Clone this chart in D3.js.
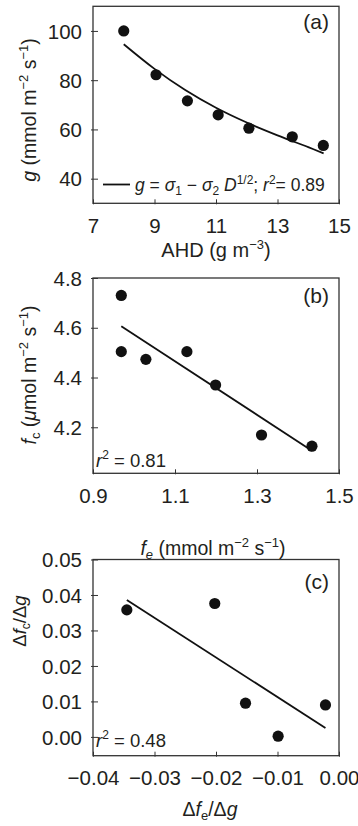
<!DOCTYPE html>
<html>
<head>
<meta charset="utf-8">
<script src="https://cdn.jsdelivr.net/npm/d3@7"></script>
<style>
  body { margin: 0; background: #fff; }
  svg text { font-family: "Liberation Sans", Arial, sans-serif; fill: #231f20; }
</style>
</head>
<body>
<div class="chart"></div>
<script>
// panel (a): conductance vs AHD
const ahd = [8, 9.05, 10.07, 11.07, 12.07, 13.48, 14.49];
const gVals = [100, 82.2, 71.6, 65.9, 60.5, 57.0, 53.5];
const fitAx = [8, 9, 10, 11, 12, 13, 14, 14.5];
const fitAy = [94.6, 84.6, 76.0, 68.8, 62.8, 57.6, 52.8, 50.3];
const ticksAx = [7, 9, 11, 13, 15];
const ticksAy = [40, 60, 80, 100];

// panel (b): fc vs fe
const fe = [0.969, 0.969, 1.029, 1.129, 1.199, 1.311, 1.434];
const fc = [4.730, 4.504, 4.473, 4.504, 4.370, 4.169, 4.124];
const fitBx = [0.969, 1.434];
const fitBy = [4.606, 4.106];
const ticksBx = [0.9, 1.1, 1.3, 1.5];
const ticksBy = [4.2, 4.4, 4.6, 4.8];

// panel (c): dfc/dg vs dfe/dg
const dfe = [-0.0345, -0.0202, -0.0152, -0.0099, -0.0022];
const dfc = [0.0358, 0.0376, 0.0095, 0.0002, 0.009];
const fitCx = [-0.0345, -0.0022];
const fitCy = [0.0386, 0.0025];
const ticksCx = [-0.04, -0.03, -0.02, -0.01, 0];
const ticksCy = [0, 0.01, 0.02, 0.03, 0.04, 0.05];

const width = 358, height = 826;
const svg = d3.select('.chart').append('svg')
  .attr('width', width)
  .attr('height', height);

const left = 93, right = 339;

function panel(cfg) {
  const x = d3.scaleLinear().domain(cfg.xDom).range([left, right]);
  const y = d3.scaleLinear().domain(cfg.yDom).range(cfg.yRange);
  const g = svg.append('g');

  // ticks, pointing into the frame
  g.append('g')
    .attr('transform', `translate(0,${cfg.yRange[0]})`)
    .call(d3.axisBottom(x).tickValues(cfg.xTicks).tickFormat(cfg.xFmt).tickSizeInner(-4).tickSizeOuter(0).tickPadding(12))
    .call(a => a.select('.domain').remove())
    .call(a => a.selectAll('line').attr('stroke', '#333').attr('y1', 1))
    .call(a => a.selectAll('text').attr('font-size', 20.5).attr('fill', '#231f20').attr('dy', null).attr('y', 29.5));

  g.append('g')
    .attr('transform', `translate(${left},0)`)
    .call(d3.axisLeft(y).tickValues(cfg.yTicks).tickFormat(cfg.yFmt).tickSizeInner(-5).tickSizeOuter(0).tickPadding(11))
    .call(a => a.select('.domain').remove())
    .call(a => a.selectAll('line').attr('stroke', '#333').attr('x1', -2))
    .call(a => a.selectAll('text').attr('font-size', 20.5).attr('fill', '#231f20').attr('dy', '0.35em').attr('x', -11));

  // frame
  g.append('rect')
    .attr('x', left)
    .attr('y', cfg.yRange[1])
    .attr('width', right - left)
    .attr('height', cfg.yRange[0] - cfg.yRange[1])
    .style('fill', 'none')
    .style('stroke', '#333')
    .style('stroke-width', 1.3);

  // fit line
  g.append('path')
    .datum(d3.zip(cfg.fitX, cfg.fitY))
    .attr('d', d3.line().x(d => x(d[0])).y(d => y(d[1])).curve(d3.curveCatmullRom))
    .style('fill', 'none')
    .style('stroke', '#111')
    .style('stroke-width', 1.8);

  // points
  g.selectAll('circle')
    .data(d3.zip(cfg.px, cfg.py))
    .join('circle')
    .attr('cx', d => x(d[0]))
    .attr('cy', d => y(d[1]))
    .attr('r', 5.6)
    .style('fill', '#111');

  return { g, x, y };
}

const A = panel({
  xDom: [7, 15], yDom: [30, 110], yRange: [203.3, 6.3],
  xTicks: ticksAx, yTicks: ticksAy, xFmt: d3.format('d'), yFmt: d3.format('d'),
  fitX: fitAx, fitY: fitAy, px: ahd, py: gVals
});
const B = panel({
  xDom: [0.9, 1.5], yDom: [4.015, 4.8], yRange: [473.3, 278],
  xTicks: ticksBx, yTicks: ticksBy, xFmt: d3.format('.1f'), yFmt: d3.format('.1f'),
  fitX: fitBx, fitY: fitBy, px: fe, py: fc
});
const C = panel({
  xDom: [-0.04, 0], yDom: [-0.0053, 0.05], yRange: [755.7, 559.5],
  xTicks: ticksCx, yTicks: ticksCy, xFmt: d3.format('.2f'), yFmt: d3.format('.2f'),
  fitX: fitCx, fitY: fitCy, px: dfe, py: dfc
});

// panel letters
[[A, 29], [B, 303], [C, 589]].forEach(([p, yy], i) => {
  p.g.append('text')
    .attr('x', 329)
    .attr('y', yy)
    .attr('text-anchor', 'end')
    .attr('font-size', 21)
    .text(['(a)', '(b)', '(c)'][i]);
});

// legend in (a)
A.g.append('line')
  .attr('x1', 103).attr('x2', 130)
  .attr('y1', 184.5).attr('y2', 184.5)
  .style('stroke', '#111')
  .style('stroke-width', 1.8);

const leg = A.g.append('text')
  .attr('x', 135)
  .attr('y', 191)
  .attr('font-size', 17.5);
leg.append('tspan').attr('font-style', 'italic').text('g');
leg.append('tspan').text(' = ');
leg.append('tspan').attr('font-style', 'italic').text('σ');
leg.append('tspan').attr('font-size', 12).attr('dy', 4).text('1');
leg.append('tspan').attr('dy', -4).text(' − ');
leg.append('tspan').attr('font-style', 'italic').text('σ');
leg.append('tspan').attr('font-size', 12).attr('dy', 4).text('2');
leg.append('tspan').attr('dy', -4).attr('font-style', 'italic').text(' D');
leg.append('tspan').attr('font-size', 12).attr('dy', -7).text('1/2');
leg.append('tspan').attr('dy', 7).text('; ');
leg.append('tspan').attr('font-style', 'italic').text('r');
leg.append('tspan').attr('font-size', 12).attr('dy', -7).text('2');
leg.append('tspan').attr('dy', 7).text('= 0.89');

// r² labels in (b) and (c)
[[B, 467, '0.81'], [C, 746.5, '0.48']].forEach(([p, yy, v]) => {
  const t = p.g.append('text').attr('x', 96).attr('y', yy).attr('font-size', 18.5);
  t.append('tspan').attr('font-style', 'italic').text('r');
  t.append('tspan').attr('font-size', 12).attr('dy', -8).text('2');
  t.append('tspan').attr('dy', 8).text(' = ' + v);
});

// x axis titles
const xa = svg.append('text').attr('x', 216).attr('y', 257).attr('text-anchor', 'middle').attr('font-size', 20);
xa.append('tspan').text('AHD (g m');
xa.append('tspan').attr('font-size', 13).attr('dy', -8).text('−3');
xa.append('tspan').attr('dy', 8).text(')');

const xb = svg.append('text').attr('x', 213).attr('y', 555).attr('text-anchor', 'middle').attr('font-size', 19.5);
xb.append('tspan').attr('font-style', 'italic').text('f');
xb.append('tspan').attr('font-style', 'italic').attr('font-size', 13).attr('dy', 4).text('e');
xb.append('tspan').attr('dy', -4).text(' (mmol m');
xb.append('tspan').attr('font-size', 13).attr('dy', -8).text('−2');
xb.append('tspan').attr('dy', 8).text(' s');
xb.append('tspan').attr('font-size', 13).attr('dy', -8).text('−1');
xb.append('tspan').attr('dy', 8).text(')');

const xc = svg.append('text').attr('x', 210).attr('y', 816).attr('text-anchor', 'middle').attr('font-size', 19.5);
xc.append('tspan').text('Δ');
xc.append('tspan').attr('font-style', 'italic').text('f');
xc.append('tspan').attr('font-size', 13).attr('dy', 4).text('e');
xc.append('tspan').attr('dy', -4).text('/Δ');
xc.append('tspan').attr('font-style', 'italic').text('g');

// y axis titles (rotated)
const ya = svg.append('text').attr('transform', 'translate(36,110) rotate(-90)').attr('text-anchor', 'middle').attr('font-size', 19.5);
ya.append('tspan').attr('font-style', 'italic').text('g');
ya.append('tspan').text(' (mmol m');
ya.append('tspan').attr('font-size', 13).attr('dy', -8).text('−2');
ya.append('tspan').attr('dy', 8).text(' s');
ya.append('tspan').attr('font-size', 13).attr('dy', -8).text('−1');
ya.append('tspan').attr('dy', 8).text(')');

const yb = svg.append('text').attr('transform', 'translate(36,375) rotate(-90)').attr('text-anchor', 'middle').attr('font-size', 19.5);
yb.append('tspan').attr('font-style', 'italic').text('f');
yb.append('tspan').attr('font-size', 13).attr('dy', 4).text('c');
yb.append('tspan').attr('dy', -4).text(' (');
yb.append('tspan').attr('font-style', 'italic').text('μ');
yb.append('tspan').text('mol m');
yb.append('tspan').attr('font-size', 13).attr('dy', -8).text('−2');
yb.append('tspan').attr('dy', 8).text(' s');
yb.append('tspan').attr('font-size', 13).attr('dy', -8).text('−1');
yb.append('tspan').attr('dy', 8).text(')');

const yc = svg.append('text').attr('transform', 'translate(26,621) rotate(-90)').attr('text-anchor', 'middle').attr('font-size', 18.5);
yc.append('tspan').text('Δ');
yc.append('tspan').attr('font-style', 'italic').text('f');
yc.append('tspan').attr('font-size', 12).attr('dy', 4).text('c');
yc.append('tspan').attr('dy', -4).text('/Δ');
yc.append('tspan').attr('font-style', 'italic').text('g');
</script>
</body>
</html>
